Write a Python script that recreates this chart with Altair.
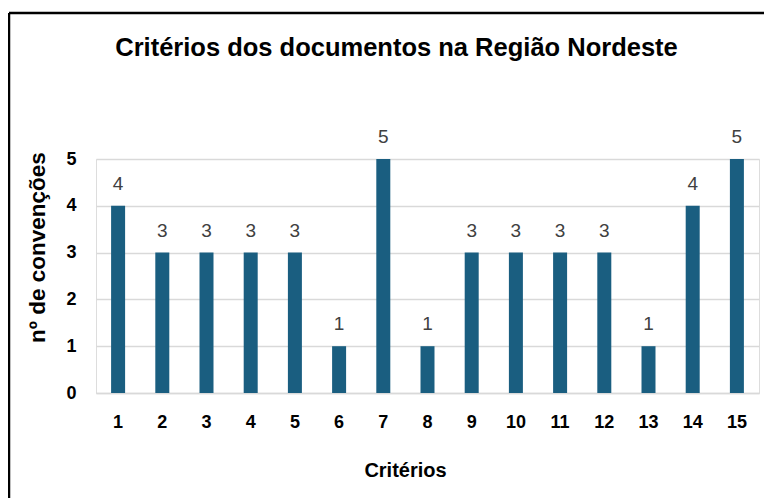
import altair as alt
import pandas as pd

criterios = [str(i) for i in range(1, 16)]
convencoes = [4, 3, 3, 3, 3, 1, 5, 1, 3, 3, 3, 3, 1, 4, 5]

df = pd.DataFrame({"Critérios": criterios, "n": convencoes})
frame_df = pd.DataFrame({"a": [0]})

FONT = "Liberation Sans"
BAR = "#1a5e80"

x = alt.X("Critérios:N", sort=criterios, title="Critérios",
          scale=alt.Scale(paddingInner=0, paddingOuter=0),
          axis=alt.Axis(labelAngle=0, ticks=False, domain=True, domainColor="#d9d9d9",
                        domainWidth=1.5, labelPadding=20, titlePadding=29, titleX=309,
                        labelFontSize=18, labelFontWeight="bold", labelColor="#000000",
                        titleFontSize=20, titleFontWeight="bold", titleColor="#000000",
                        labelFont=FONT, titleFont=FONT, grid=False))
y = alt.Y("n:Q", title="nº de convenções",
          scale=alt.Scale(domain=[0, 5], nice=False),
          axis=alt.Axis(values=[0, 1, 2, 3, 4, 5], ticks=False, domain=False,
                        grid=True, gridColor="#d9d9d9", gridWidth=1.5,
                        labelPadding=20, titlePadding=16, titleY=88,
                        labelFontSize=18, labelFontWeight="bold", labelColor="#000000",
                        titleFontSize=22.5, titleFontWeight="bold", titleColor="#000000",
                        labelFont=FONT, titleFont=FONT))

base = alt.Chart(df)
bars = base.mark_bar(size=14, color=BAR).encode(x=x, y=y)
labels = base.mark_text(baseline="bottom", dy=-12, fontSize=19, font=FONT,
                        color="#404040").encode(x=x, y=y, text="n:Q")

frame_left = alt.Chart(frame_df).mark_rule(color="#000000", strokeWidth=2.5).encode(
    x=alt.value(-87), y=alt.value(-146), y2=alt.value(400))
frame_top = alt.Chart(frame_df).mark_rule(color="#000000", strokeWidth=2.5).encode(
    x=alt.value(-87), x2=alt.value(720), y=alt.value(-146))

chart = alt.layer(frame_left, frame_top, bars, labels).properties(
    width=663, height=234,
    title=alt.TitleParams("Critérios dos documentos na Região Nordeste",
                          fontSize=25.5, fontWeight="bold", font=FONT, color="#000000",
                          anchor="middle", frame="group", dx=-31, offset=-50),
    autosize=alt.AutoSizeParams(type="none"),
    padding={"left": 88, "top": 151, "right": 5, "bottom": 105},
).configure_view(stroke=None).configure(background="#ffffff")

chart.save("out.html", embed_options={"renderer": "svg", "actions": False})
